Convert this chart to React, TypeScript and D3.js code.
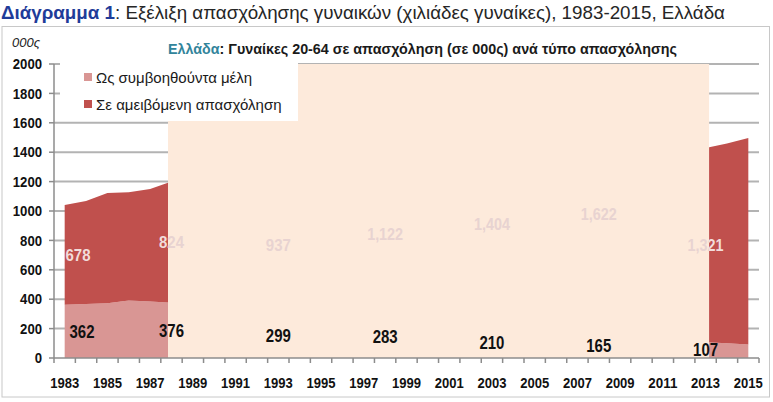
import * as d3 from "d3";

const years = d3.range(1983, 2016).map(String);

// Γυναίκες ως συμβοηθούντα μέλη (000ς)
const assisting = [
  362, 368, 372, 392, 385, 376, 360, 345, 330, 310, 299, 300, 295, 290, 285, 283, 270,
  255, 240, 225, 210, 200, 190, 180, 172, 165, 155, 140, 125, 115, 107, 100, 92,
];
// Γυναίκες σε αμειβόμενη απασχόληση (000ς)
const paid = [
  678, 700, 750, 735, 765, 824, 840, 860, 850, 900, 937, 970, 1000, 1030, 1060, 1122,
  1150, 1180, 1250, 1320, 1404, 1450, 1500, 1550, 1590, 1622, 1610, 1570, 1470, 1360,
  1321, 1360, 1405,
];
const labelYears = ["1983", "1988", "1993", "1998", "2003", "2008", "2013"];
const yTicks = d3.range(0, 2001, 200);
const xTickLabels = years.filter((_, i) => i % 2 === 0);

const seriesNames = ["Ως συμβοηθούντα μέλη", "Σε αμειβόμενη απασχόληση"];
const colors = ["#d99694", "#c0504d"];

const FONT = "'Liberation Sans', Arial, sans-serif";

export default function App() {
  const W = 773;
  const H = 402;
  const left = 54;
  const right = 759;
  const top = 64;
  const bottom = 358;

  const x = d3.scaleBand<string>().domain(years).range([left, right]);
  const bw = x.bandwidth();
  const cx = (yr: string) => (x(yr) ?? 0) + bw / 2;
  const y = d3.scaleLinear().domain([0, 2000]).range([bottom, top]);

  const rows = years.map((yr, i) => ({ year: yr, assisting: assisting[i], paid: paid[i] }));
  const stack = d3.stack<any>().keys(["assisting", "paid"])(rows);
  const area = d3
    .area<any>()
    .x((d) => cx(d.data.year))
    .y0((d) => y(d[0]))
    .y1((d) => y(d[1]));

  // the pale block that hides the middle years
  const maskX0 = cx("1988") - 3.5;
  const maskX1 = cx("2013") + 3.5;

  const labelX = (yr: string, w: number) => Math.max(cx(yr), left + w);

  const whiteLabels = labelYears.map((yr) => {
    const i = years.indexOf(yr);
    const v = paid[i];
    const text = v >= 1000 ? d3.format(",")(v) : String(v);
    return { yr, x: labelX(yr, 24), y: y(assisting[i] + v / 2), text, w: text.length > 3 ? 36 : 25 };
  });
  const blackLabels = labelYears.map((yr) => {
    const i = years.indexOf(yr);
    const v = assisting[i];
    return { yr, x: labelX(yr, 28), y: y(v / 2), text: String(v) };
  });

  return (
    <svg
      width={W}
      height={H}
      style={{ position: "absolute", left: 0, top: 0, background: "#fff" }}
      fontFamily={FONT}
    >
      <defs>
        <clipPath id="maskClip">
          <rect x={maskX0} y={top} width={maskX1 - maskX0} height={bottom - top} />
        </clipPath>
      </defs>

      {/* main title */}
      <text x={1} y={19} fontSize={19} fill="#262626" textLength={724} lengthAdjust="spacingAndGlyphs">
        <tspan fill="#1f3c99" fontWeight="bold">Διάγραμμα 1</tspan>
        <tspan>: Εξέλιξη απασχόλησης γυναικών (χιλιάδες γυναίκες), 1983-2015, Ελλάδα</tspan>
      </text>

      {/* frame */}
      <rect x={2} y={26.5} width={767.5} height={370.5} fill="none" stroke="#c8c8c8" strokeWidth={1} />

      <text x={12} y={47} fontSize={13} fontStyle="italic" fill="#222">000ς</text>

      <text x={168} y={54} fontSize={15} fontWeight="bold" fill="#1a1a1a" textLength={509} lengthAdjust="spacingAndGlyphs">
        <tspan fill="#31849b">Ελλάδα</tspan>
        <tspan>: Γυναίκες 20-64  σε απασχόληση (σε 000ς) ανά τύπο απασχόλησης</tspan>
      </text>

      {/* gridlines */}
      {yTicks.slice(1).map((t) => (
        <line key={t} x1={left} x2={right} y1={y(t)} y2={y(t)} stroke="#b3b3b3" strokeWidth={2} />
      ))}

      {/* areas */}
      {stack.map((s, i) => (
        <path key={s.key} d={area(s) ?? ""} fill={colors[i]} />
      ))}

      {/* white labels */}
      {whiteLabels.map((l) => (
        <text key={l.yr} x={l.x} y={l.y} dy="0.35em" textAnchor="middle" fontSize={17} fontWeight="bold"
          fill="#f2dcdb" textLength={l.w} lengthAdjust="spacingAndGlyphs">
          {l.text}
        </text>
      ))}

      {/* mask block */}
      <rect x={maskX0} y={top} width={maskX1 - maskX0} height={bottom - top} fill="#fdeadb" />
      <g clipPath="url(#maskClip)">
        {whiteLabels.map((l) => (
          <text key={l.yr} x={l.x} y={l.y} dy="0.35em" textAnchor="middle" fontSize={17} fontWeight="bold"
            fill="#e8d3d1" textLength={l.w} lengthAdjust="spacingAndGlyphs">
            {l.text}
          </text>
        ))}
      </g>

      {/* black labels */}
      {blackLabels.map((l) => (
        <text key={l.yr} x={l.x} y={l.y} dy="0.35em" textAnchor="middle" fontSize={18} fontWeight="bold"
          fill="#111" textLength={25} lengthAdjust="spacingAndGlyphs">
          {l.text}
        </text>
      ))}

      {/* y axis */}
      <line x1={left} x2={left} y1={top} y2={bottom} stroke="#8c8c8c" strokeWidth={1.5} />
      {yTicks.map((t) => (
        <g key={t}>
          <line x1={left - 5} x2={left} y1={y(t)} y2={y(t)} stroke="#8c8c8c" strokeWidth={1.5} />
          <text x={42} y={y(t)} dy="0.35em" textAnchor="end" fontSize={15} fontWeight="bold" fill="#111"
            textLength={String(t).length * 7.3} lengthAdjust="spacingAndGlyphs">
            {t}
          </text>
        </g>
      ))}

      {/* x axis */}
      <line x1={left} x2={right} y1={bottom} y2={bottom} stroke="#8c8c8c" strokeWidth={1.5} />
      {years.concat(["end"]).map((yr, i) => {
        const tx = left + i * bw;
        return <line key={yr} x1={tx} x2={tx} y1={bottom} y2={bottom + 5} stroke="#8c8c8c" strokeWidth={1.5} />;
      })}
      {xTickLabels.map((yr) => (
        <text key={yr} x={cx(yr)} y={388} textAnchor="middle" fontSize={15} fontWeight="bold" fill="#111"
          textLength={29} lengthAdjust="spacingAndGlyphs">
          {yr}
        </text>
      ))}

      {/* legend */}
      <rect x={60} y={58} width={238} height={63} fill="#fff" />
      {seriesNames.map((n, i) => (
        <g key={n} transform={`translate(84, ${78 + i * 27})`}>
          <rect x={0} y={-5} width={8} height={8} fill={colors[i]} />
          <text x={12} y={0} dy="0.35em" fontSize={15} fill="#1a1a1a">{n}</text>
        </g>
      ))}
    </svg>
  );
}
